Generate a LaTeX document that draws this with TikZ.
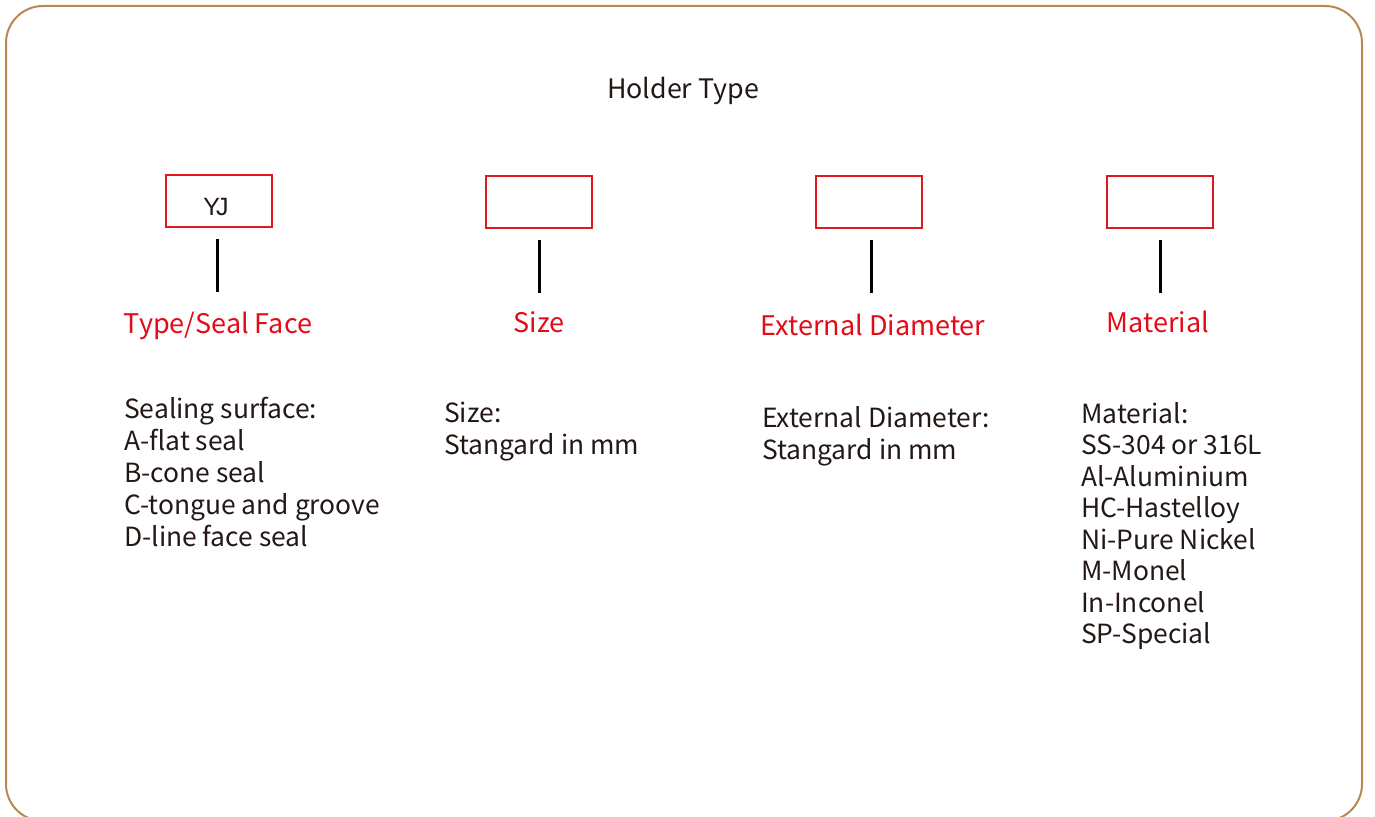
\documentclass[tikz,border=0pt]{standalone}
\usepackage{fontspec}
\setmainfont{Noto Sans CJK SC}
\newfontfamily\arialfont{Liberation Sans}
\definecolor{framec}{RGB}{184,136,78}
\definecolor{redc}{RGB}{228,10,24}
\definecolor{boxred}{RGB}{224,24,32}
\definecolor{textc}{RGB}{35,24,21}
\tikzset{
  framebox/.style={draw=framec, line width=2pt, rounded corners=37pt},
  codebox/.style={draw=boxred, line width=2pt, minimum width=106pt, minimum height=52pt, inner sep=0pt},
  stem/.style={draw=black, line width=3pt},
  redlabel/.style={text=redc, font=\fontsize{27}{32}\selectfont, inner sep=0pt, anchor=base},
  desc/.style={text=textc, font=\fontsize{26.4}{32}\selectfont, inner sep=0pt, anchor=base west},
  title/.style={text=textc, font=\fontsize{26.8}{32}\selectfont, inner sep=0pt, anchor=base}
}
\newcommand{\desclines}[1]{\begin{tabular}[t]{@{}l@{}}#1\end{tabular}}
\begin{document}
\begin{tikzpicture}[x=1pt,y=-1pt]
\useasboundingbox (0,0) rectangle (1375,816);
\draw[framebox] (6,6) rectangle (1362,821);
\node[title] (title) at (683,98) {Holder Type};
% boxes
\node[codebox] (b1) at (219,201) {};
\node[codebox] (b2) at (539,201.5) {};
\node[codebox] (b3) at (869,201.5) {};
\node[codebox] (b4) at (1160,201.5) {};
\node[text=textc, font=\arialfont\fontsize{25}{28}\selectfont, inner sep=0pt, anchor=base] (yj) at (216,215) {Y\kern-4pt J};
% labels
\node[redlabel] (l1) at (218,333) {Type/Seal Face};
\node[redlabel] (l2) at (539,332) {Size};
\node[redlabel] (l3) at (873,335) {External Diameter};
\node[redlabel] (l4) at (1158,332) {Material};
% stems
\draw[stem] ([xshift=-2pt,yshift=-11pt]b1.south) -- ++(0,53);
\draw[stem] ([yshift=-11pt]b2.south) -- ++(0,53);
\draw[stem] ([xshift=2pt,yshift=-11pt]b3.south) -- ++(0,53);
\draw[stem] ([yshift=-11pt]b4.south) -- ++(0,53);
% descriptions
\node[desc] (d1) at (124,418) {\desclines{Sealing surface:\\A-flat seal\\B-cone seal\\C-tongue and groove\\D-line face seal}};
\node[desc] (d2) at (444,422) {\desclines{Size:\\Stangard in mm}};
\node[desc] (d3) at (762,427) {\desclines{External Diameter:\\Stangard in mm}};
\node[desc, font=\fontsize{26.4}{31.5}\selectfont] (d4) at (1081,423) {\desclines{Material:\\SS-304 or 316L\\Al-Aluminium\\HC-Hastelloy\\Ni-Pure Nickel\\M-Monel\\In-Inconel\\SP-Special}};
\end{tikzpicture}
\end{document}
